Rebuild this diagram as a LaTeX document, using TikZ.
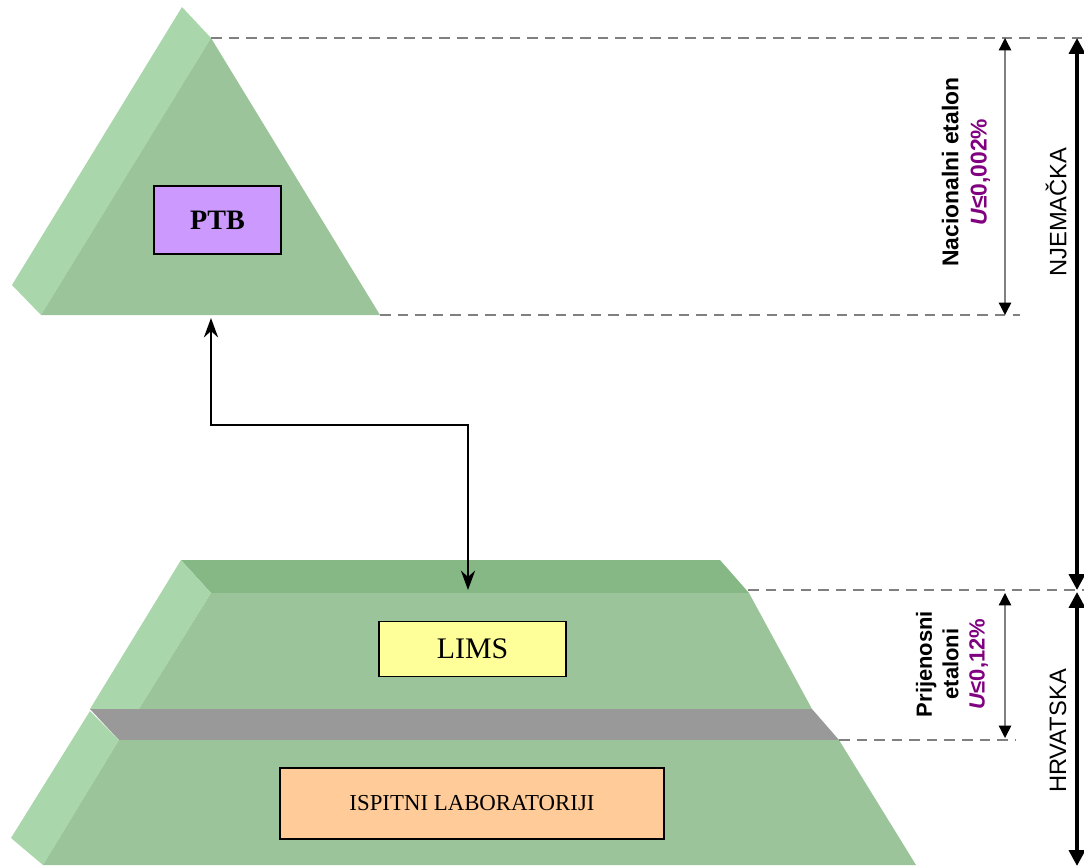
\documentclass[tikz,border=0pt]{standalone}
\usepackage{fontspec}
\setmainfont{Liberation Serif}
\setsansfont{Liberation Sans}
\definecolor{pmFront}{HTML}{9BC49B}
\definecolor{pmSide}{HTML}{A9D6AA}
\definecolor{pmTop}{HTML}{85B885}
\definecolor{pmBand}{HTML}{999999}
\definecolor{pmDash}{HTML}{808080}
\definecolor{pmPurple}{HTML}{800080}
\definecolor{pmPTB}{HTML}{CC99FF}
\definecolor{pmLIMS}{HTML}{FFFF99}
\definecolor{pmLab}{HTML}{FFCC99}
\usetikzlibrary{calc,positioning,arrows.meta}

\tikzset{
  labbox/.style={draw=black, line width=1pt, inner sep=0pt, font=\rmfamily},
  levelline/.style={pmDash, line width=1.6pt, dash pattern=on 6pt off 4pt},
  spanarrow/.style={{Triangle[length=9pt,width=9pt]}-{Triangle[length=9pt,width=9pt]}, line width=2.2pt},
  etalarrow/.style={{Triangle[length=7pt,width=7pt,color=black]}-{Triangle[length=7pt,width=7pt,color=black]}, gray, line width=0.8pt},
  sidetext/.style={rotate=90, font=\sffamily\bfseries, align=center, inner sep=0pt},
}

\begin{document}
\begin{tikzpicture}[x=0.02cm, y=-0.02cm]
  \useasboundingbox (0,0) rectangle (1084,865);
  \clip (0,0) rectangle (1084,865);

  % top pyramid
  \fill[pmSide] (182,7) -- (12,285) -- (41,315) -- (211,38) -- cycle;
  \fill[pmFront] (211,38) -- (41,315) -- (380,315) -- cycle;

  % bottom pyramid, upper part
  \fill[pmTop] (181,560) -- (720,560) -- (749,593) -- (211,593) -- cycle;
  \fill[pmSide] (181,560) -- (211,593) -- (139,709) -- (90,709) -- cycle;
  \fill[pmFront] (211,593) -- (749,593) -- (812,709) -- (139,709) -- cycle;
  \fill[pmBand] (90,709) -- (812,709) -- (839,740) -- (119,740) -- cycle;
  % bottom pyramid, lower part
  \fill[pmSide] (90,711) -- (119,740) -- (43,865) -- (11,838) -- cycle;
  \fill[pmFront] (119,740) -- (839,740) -- (916,865) -- (43,865) -- cycle;

  % boxes
  \node[labbox, fill=pmPTB, minimum width=2.54cm, minimum height=1.36cm,
        font=\rmfamily\bfseries\fontsize{16}{18}\selectfont] (ptb) at (217.5,220) {PTB};
  \node[labbox, fill=pmLIMS, minimum width=3.74cm, minimum height=1.1cm,
        font=\rmfamily\fontsize{17}{19}\selectfont] (lims) at (472.5,649) {LIMS};
  \node[labbox, fill=pmLab, minimum width=7.68cm, minimum height=1.42cm,
        font=\rmfamily\fontsize{13}{15}\selectfont] (labs) at (472,803.5) {ISPITNI LABORATORIJI};

  % levels
  \coordinate (ptbTop) at (211,38);
  \coordinate (ptbBase) at (211,318);
  \coordinate (ptbRight) at (380,315);
  \coordinate (limsTop) at (468,590);
  \coordinate (trapTop) at (748,590);
  \coordinate (bandLow) at (839,740);

  \draw[levelline] (ptbTop) -- (1084,38);
  \draw[levelline] (ptbRight) -- (1020,315);
  \draw[levelline] (trapTop) -- (1084,590);
  \draw[levelline] (bandLow) -- (1015,740);

  % link PTB - LIMS
  \draw[{Stealth[length=11pt,width=8pt]}-{Stealth[length=11pt,width=8pt]}, line width=1.6pt]
    (ptbBase) -- (ptbBase |- 0,425) -- (limsTop |- 0,425) -- (limsTop);

  % uncertainty spans
  \draw[etalarrow] (1005,38) -- (1005,315);
  \draw[etalarrow] (1005,593) -- (1005,738);
  \draw[spanarrow] (1077,38) -- (1077,590);
  \draw[spanarrow] (1077,592) -- (1077,866);

  \node[sidetext, font=\sffamily\bfseries\fontsize{13}{16}\selectfont] (nacional) at (966,172)
    {Nacionalni etalon\\{\color{pmPurple}\itshape U\upshape≤0,002\%}};
  \node[sidetext, font=\sffamily\bfseries\fontsize{12.5}{15}\selectfont] (prijenos) at (952,664)
    {Prijenosni\\etaloni\\{\color{pmPurple}\itshape U\upshape≤0,12\%}};
  \node[sidetext, font=\sffamily\fontsize{13.5}{15}\selectfont] (njem) at (1056,212) {NJEMAČKA};
  \node[sidetext, font=\sffamily\fontsize{13.5}{15}\selectfont] (hrv) at (1058,731) {HRVATSKA};
\end{tikzpicture}
\end{document}
